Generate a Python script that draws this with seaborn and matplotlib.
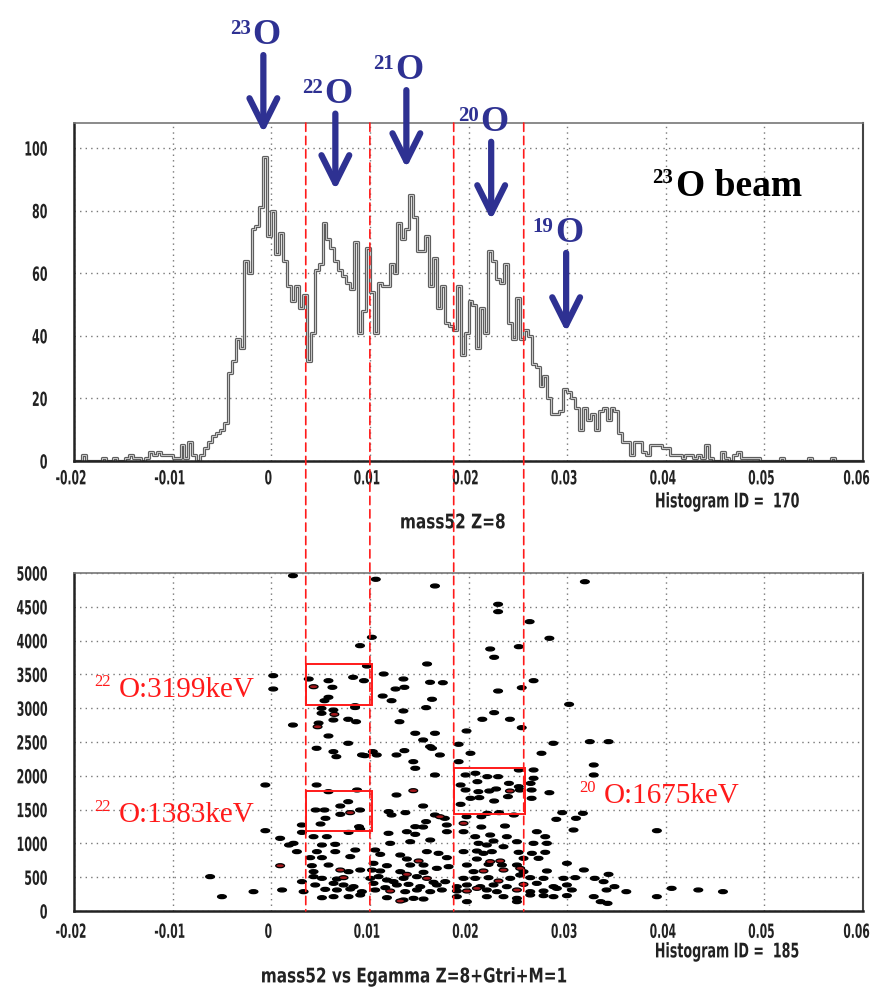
import numpy as np
import pandas as pd
import seaborn as sns
import matplotlib
matplotlib.use("Agg")
import matplotlib.pyplot as plt
from matplotlib.patches import Rectangle, ConnectionPatch
from matplotlib.patheffects import AbstractPathEffect
from matplotlib.path import Path
from matplotlib.markers import MarkerStyle
from matplotlib.transforms import Affine2D
from matplotlib.ticker import MultipleLocator, FuncFormatter

# ---------------- data ----------------
# mass52 histogram (Z=8), 200 bins of 0.0004 from -0.02 to 0.06
bin_lo, bin_hi, bin_w = -0.02, 0.06, 0.0004
mass_counts = [
    0, 0, 2, 0, 0, 0, 0, 1, 0, 0,
    1, 0, 0, 1, 2, 1, 1, 0, 1, 3,
    2, 3, 2, 2, 2, 1, 1, 5, 1, 6,
    2, 0, 2, 4, 6, 8, 9, 10, 12, 28,
    32, 39, 36, 64, 60, 74, 75, 81, 97, 72,
    80, 66, 73, 64, 56, 51, 56, 49, 53, 32,
    41, 61, 63, 76, 71, 68, 64, 61, 59, 57,
    55, 70, 41, 48, 68, 54, 41, 57, 56, 56,
    63, 60, 76, 71, 74, 85, 78, 67, 67, 72,
    56, 65, 49, 56, 44, 43, 42, 56, 34, 41,
    51, 50, 36, 49, 41, 67, 64, 58, 57, 63,
    44, 39, 52, 39, 42, 40, 31, 30, 24, 27,
    20, 15, 15, 16, 23, 22, 20, 17, 10, 17,
    13, 15, 10, 16, 17, 13, 17, 16, 9, 6,
    6, 2, 6, 6, 3, 2, 5, 5, 5, 4,
    4, 2, 2, 2, 1, 2, 2, 1, 2, 1,
    5, 1, 0, 0, 3, 1, 0, 2, 3, 1,
    1, 1, 1, 1, 0, 0, 0, 0, 0, 1,
    0, 0, 0, 0, 0, 0, 1, 0, 0, 0,
    0, 0, 1, 0, 0, 0, 0, 0, 0, 0,
]

# mass52 vs Egamma events (mass52, Egamma keV); single and multiple hits per cell
single_hits = [
    # high-energy part
    (0.0022, 4960), (0.0106, 4907), (0.0166, 4808), (0.0102, 4049), (0.0090, 3925),
    (0.0097, 3624), (0.0158, 3654), (0.0002, 3481), (0.0114, 3506), (0.0038, 3432),
    (0.0058, 3407), (0.0083, 3457), (0.0094, 3407), (0.0134, 3432), (0.0161, 3383),
    (0.0062, 3309), (0.0002, 3284), (0.0126, 3284), (0.0135, 3309), (0.0113, 3180),
    (0.0122, 3111), (0.0058, 3161), (0.0054, 3111), (0.0163, 3132), (0.0085, 3037),
    (0.0085, 3010), (0.0051, 2998), (0.0051, 2925), (0.0063, 2973), (0.0063, 2825),
    (0.0078, 2836), (0.0086, 2800), (0.0157, 3008), (0.0134, 2959), (0.0130, 2800),
    (0.0022, 2751), (0.0048, 2780), (0.0058, 2589), (0.0146, 2629), (0.0166, 2629),
    (0.0078, 2481), (0.0154, 2530), (0.0161, 2431), (0.0046, 2407), (0.0063, 2357),
    (0.0066, 2283), (0.0095, 2298), (0.0103, 2357), (0.0107, 2308), (0.0127, 2308),
    (0.0135, 2372),
    (0.0318, 4871), (0.0230, 4537), (0.0230, 4428), (0.0262, 4280), (0.0282, 4034),
    (0.0222, 3876), (0.0251, 3910), (0.0226, 3753), (0.0174, 3377), (0.0266, 3407),
    (0.0254, 3303), (0.0230, 3254), (0.0302, 3057), (0.0226, 2934), (0.0214, 2836),
    (0.0242, 2836), (0.0254, 2712), (0.0198, 2663), (0.0190, 2466), (0.0286, 2481),
    (0.0323, 2505), (0.0342, 2505), (0.0163, 2407), (0.0171, 2308), (0.0202, 2333),
    (0.0274, 2333),
    # mid-energy part
    (0.0092, 2308), (0.0144, 2209), (0.0146, 2111), (0.0166, 2012), (-0.0006, 1864),
    (0.0046, 1864), (0.0058, 1765), (0.0087, 1790), (0.0127, 1716), (0.0078, 1617),
    (0.0070, 1553), (0.0045, 1494), (0.0054, 1494), (0.0090, 1494), (0.0070, 1430),
    (0.0055, 1371), (0.0119, 1470), (0.0122, 1420), (0.0136, 1455), (0.0154, 1553),
    (0.0166, 1420), (0.0031, 1272), (0.0050, 1287), (0.0089, 1247), (0.0146, 1247),
    (0.0154, 1242), (-0.0006, 1188), (0.0009, 1075), (0.0018, 976), (0.0011, 311),
    (-0.0018, 286), (-0.0062, 508), (-0.0050, 212),
    (0.0190, 2209), (0.0327, 2160), (0.0251, 2086), (0.0266, 2086), (0.0197, 2012),
    (0.0207, 2037), (0.0219, 1987), (0.0230, 1987), (0.0327, 2012), (0.0266, 1963),
    (0.0192, 1864), (0.0209, 1913), (0.0241, 1888), (0.0251, 1839), (0.0263, 1888),
    (0.0197, 1790), (0.0210, 1765), (0.0221, 1775), (0.0228, 1805), (0.0252, 1790),
    (0.0264, 1790), (0.0282, 1750), (0.0202, 1667), (0.0211, 1677), (0.0226, 1627),
    (0.0240, 1692), (0.0192, 1578), (0.0264, 1667), (0.0176, 1371), (0.0198, 1395),
    (0.0219, 1445), (0.0213, 1395), (0.0231, 1455), (0.0246, 1420), (0.0295, 1455),
    (0.0309, 1371), (0.0316, 1445), (0.0289, 1356), (0.0157, 1322), (0.0178, 1272),
    (0.0213, 1242), (0.0237, 1257),
    (0.0391, 1188), (0.0317, 607), (0.0328, 483), (0.0342, 542), (0.0337, 434),
    (0.0348, 360), (0.0327, 212), (0.0340, 311), (0.0360, 286), (0.0391, 212),
    (0.0406, 335), (0.0433, 311), (0.0458, 286), (0.0334, 138), (0.0341, 113),
    # dense low-energy band
    (0.00311, 1163), (0.00429, 1099), (0.00564, 1099), (0.00784, 1163), (0.00902, 1213),
    (0.01189, 1149), (0.01375, 1173), (0.01460, 1134), (0.01612, 1050), (0.01781, 1173),
    (0.01950, 1173), (0.02068, 1099), (0.02220, 1124), (0.02389, 1099), (0.02693, 1173),
    (0.02778, 1099), (0.03065, 1198),
    (0.00226, 1001), (0.00514, 976), (0.00649, 986), (0.01206, 1001), (0.01409, 1025),
    (0.02102, 1001), (0.02186, 976), (0.02254, 1035), (0.02355, 951), (0.02491, 1025),
    (0.02659, 1001), (0.02795, 1001),
    (0.00260, 878), (0.00463, 878), (0.00649, 878), (0.00852, 902), (0.01054, 902),
    (0.01105, 838), (0.01308, 828), (0.01578, 878), (0.01696, 853), (0.01950, 878),
    (0.02085, 887), (0.02152, 853), (0.02237, 878), (0.02508, 868), (0.02643, 853),
    (0.02778, 868),
    (0.00395, 789), (0.00514, 789), (0.00801, 804), (0.01375, 769), (0.01781, 789),
    (0.02085, 769), (0.02558, 779), (0.02710, 779),
    (0.00412, 670), (0.00581, 680), (0.01037, 705), (0.01173, 670), (0.01409, 680),
    (0.01544, 680), (0.01679, 631), (0.01798, 656), (0.01984, 680), (0.02203, 690),
    (0.02339, 680), (0.02491, 680), (0.02998, 705),
    (0.00429, 582), (0.00902, 606), (0.01021, 606), (0.01105, 592), (0.00784, 582),
    (0.01308, 582), (0.01544, 572), (0.02051, 582), (0.02558, 582), (0.02795, 592),
    (0.00311, 434), (0.00429, 508), (0.00514, 483), (0.00666, 473), (0.01004, 483),
    (0.01088, 508), (0.01173, 458), (0.01240, 434), (0.01341, 483), (0.01477, 508),
    (0.01645, 424), (0.01764, 434), (0.01950, 483), (0.02068, 483), (0.02203, 493),
    (0.02423, 483), (0.02524, 532), (0.02626, 493), (0.02761, 483), (0.02964, 483),
    (0.03082, 493),
    (0.00446, 385), (0.00632, 409), (0.00733, 385), (0.00835, 360), (0.01037, 409),
    (0.01156, 345), (0.01274, 385), (0.01392, 394), (0.01511, 360), (0.01679, 385),
    (0.01882, 360), (0.01984, 385), (0.02119, 360), (0.02254, 385), (0.02389, 360),
    (0.02693, 409), (0.02862, 360), (0.02998, 385),
    (0.00328, 286), (0.00547, 320), (0.00666, 311), (0.00801, 325), (0.00919, 286),
    (0.01054, 311), (0.01358, 286), (0.01477, 311), (0.01612, 286), (0.01730, 311),
    (0.01882, 296), (0.02186, 311), (0.02288, 286), (0.02626, 286), (0.02761, 296),
    (0.02896, 335), (0.03048, 311),
    (0.00514, 197), (0.00632, 212), (0.00784, 212), (0.00902, 237), (0.01173, 197),
    (0.01341, 163), (0.01443, 187), (0.01544, 177), (0.01882, 212), (0.02186, 212),
    (0.02355, 212), (0.02491, 187), (0.02626, 237), (0.02761, 227), (0.02862, 212),
    (0.02998, 227), (0.01984, 138), (0.02491, 138),
]
multi_hits = [
    (0.0043, 3318), (0.0064, 2909), (0.0047, 2726), (0.0144, 1780), (0.0080, 1455),
    (0.0242, 1775), (0.0171, 1395), (0.0195, 1297), (0.0009, 670),
    (0.00733, 493), (0.01494, 740), (0.02220, 730), (0.02322, 740), (0.02524, 631),
    (0.02558, 394), (0.01984, 296), (0.02085, 335), (0.02152, 592), (0.02304, 444),
    (0.02491, 311), (0.01375, 542), (0.01206, 296), (0.00700, 606), (0.01578, 483),
    (0.02355, 606), (0.01308, 148),
]

# mass gates drawn across both panels
gate_x = [0.0035, 0.0100, 0.0185, 0.0256]

# gamma-ray gates
box_mass_lo = [0.0035, 0.0035, 0.0185]
box_mass_hi = [0.0102, 0.0102, 0.0257]
box_e_lo = [3050, 1183, 1435]
box_e_hi = [3654, 1775, 2115]
box_iso = ["22", "22", "20"]
box_text = ["O:3199keV", "O:1383keV", "O:1675keV"]
box_label_x = [-0.0155, -0.0155, 0.0337]
box_label_e = [3166, 1317, 1598]

# isotope positions marked in the mass spectrum
iso_mass = ["23", "22", "21", "20", "19"]
iso_x = [-0.0008, 0.0065, 0.0137, 0.0223, 0.0299]
iso_tip = [104.8, 86.6, 93.6, 77.0, 41.2]
iso_tail = [129.7, 111.0, 118.5, 102.0, 66.5]


# ---------------- style ----------------
class Condensed(AbstractPathEffect):
    """Rescale text glyphs about an anchor point of their ink box (narrow lettering)."""

    def __init__(self, sx, sy=1.0, ax_frac=0.5, ay_frac=0.5, dx=0.0):
        super().__init__()
        self._sx, self._sy = sx, sy
        self._ax, self._ay, self._dx = ax_frac, ay_frac, dx

    def draw_path(self, renderer, gc, tpath, affine, rgbFace=None):
        ext = tpath.get_extents()
        x0 = ext.x0 + self._ax * ext.width
        y0 = ext.y0 + self._ay * ext.height
        t = (Affine2D().translate(-x0, -y0).scale(self._sx, self._sy).translate(x0, y0)
             + affine + Affine2D().translate(self._dx, 0))
        renderer.draw_path(gc, tpath, t, rgbFace)


sns.set_style("white")
plt.rcParams["font.family"] = ["DejaVu Sans"]
plt.rcParams["axes.unicode_minus"] = False
SERIF = ["Liberation Serif", "DejaVu Serif"]
BLUE = "#2e3192"
RED = "#ff1a1a"
INK = "#222222"

fig = plt.figure(figsize=(8.74, 9.96), dpi=100)
ax1 = fig.add_axes([74 / 874, 1 - 461 / 996, 789 / 874, 338 / 996])
ax2 = fig.add_axes([74 / 874, 1 - 911 / 996, 789 / 874, 338 / 996])

fmt = FuncFormatter(lambda v, p: "0" if abs(v) < 1e-9 else f"{v:.2f}")


def style_axes(ax):
    ax.set_xlim(bin_lo, bin_hi)
    ax.xaxis.set_major_locator(MultipleLocator(0.01))
    ax.xaxis.set_minor_locator(MultipleLocator(0.002))
    ax.xaxis.set_major_formatter(fmt)
    ax.grid(True, which="major", color="#777777", linestyle=(0, (1, 3)), linewidth=1.0)
    ax.tick_params(which="both", direction="in", top=False, right=False,
                   colors=INK, width=1.2)
    ax.tick_params(axis="x", labelsize=14)
    ax.tick_params(axis="y", labelsize=10, pad=19)
    ax.tick_params(which="major", length=10)
    ax.tick_params(which="minor", length=5.5)
    for s in ("left", "bottom"):
        ax.spines[s].set_color(INK)
        ax.spines[s].set_linewidth(1.8)
    ax.spines["top"].set_color("#777777")
    ax.spines["top"].set_linewidth(1.2)
    ax.spines["right"].set_color("#444444")
    ax.spines["right"].set_linewidth(1.5)
    ax.set_xlabel("")
    ax.set_ylabel("")
    ax.set_axisbelow(True)


# ---------------- upper panel: mass spectrum ----------------
edges = np.linspace(bin_lo, bin_hi, len(mass_counts) + 1)
centers = 0.5 * (edges[:-1] + edges[1:])
hist_df = pd.DataFrame({"mass52": centers, "counts": np.asarray(mass_counts, float)})
sns.histplot(data=hist_df, x="mass52", weights="counts", binwidth=bin_w,
             binrange=(bin_lo, bin_hi), element="step", fill=False,
             color="#5e5e5e", linewidth=2.3, ax=ax1)
sns.histplot(data=hist_df, x="mass52", weights="counts", binwidth=bin_w,
             binrange=(bin_lo, bin_hi), element="step", fill=False,
             color="#d8d8d8", linewidth=0.6, ax=ax1)
style_axes(ax1)
ax1.set_ylim(0, 108)
ax1.yaxis.set_major_locator(MultipleLocator(20))
ax1.yaxis.set_minor_locator(MultipleLocator(5))
ax1.tick_params(axis="x", pad=6)

for m, x, tip, tail in zip(iso_mass, iso_x, iso_tip, iso_tail):
    ann = ax1.annotate("", xy=(x, tip), xytext=(x, tail), annotation_clip=False,
                       arrowprops=dict(arrowstyle="->,head_length=1.0,head_width=0.5",
                                       lw=4.5, color=BLUE, mutation_scale=20,
                                       shrinkA=0, shrinkB=0))
    ann.arrow_patch.set_clip_on(False)
    ax1.annotate("O", xy=(x, tail), xytext=(-8, 8), textcoords="offset points",
                 ha="left", va="baseline", fontsize=26, fontweight="bold",
                 family=SERIF, color=BLUE, annotation_clip=False)
    ax1.annotate(m, xy=(x, tail), xytext=(-9, 15), textcoords="offset points",
                 ha="right", va="baseline", fontsize=15, fontweight="bold",
                 family=SERIF, color=BLUE, annotation_clip=False)

ax1.annotate("O beam", xy=(0.041, 84.7), ha="left", va="baseline", fontsize=27,
             fontweight="bold", family=SERIF, color="black")
ax1.annotate("23", xy=(0.041, 84.7), xytext=(-2, 9), textcoords="offset points",
             ha="right", va="baseline", fontsize=15, fontweight="bold",
             family=SERIF, color="black")

ax1.text(0.920, -0.121, "Histogram ID =  170", transform=ax1.transAxes,
         ha="right", va="center", fontsize=14.5, fontweight="bold", color=INK,
         path_effects=[Condensed(0.63, 1.0, 1.0, 0.5)])
ax1.text(0.480, -0.183, "mass52 Z=8", transform=ax1.transAxes,
         ha="center", va="center", fontsize=14.5, fontweight="bold", color=INK,
         path_effects=[Condensed(0.76, 1.0, 0.5, 0.5)])

# ---------------- lower panel: mass52 vs Egamma ----------------
ev = pd.DataFrame(single_hits + multi_hits, columns=["mass52", "Egamma"])
ev["hits"] = [1] * len(single_hits) + [2] * len(multi_hits)
ell = Path.unit_circle().transformed(Affine2D().scale(1.0, 0.45))
sns.scatterplot(data=ev, x="mass52", y="Egamma", hue="hits",
                palette={1: "black", 2: "#a3171b"}, marker=MarkerStyle(ell),
                s=40, edgecolor="black", linewidth=0.9, legend=False, ax=ax2,
                zorder=3)
style_axes(ax2)
ax2.set_ylim(0, 5000)
ax2.yaxis.set_major_locator(MultipleLocator(500))
ax2.yaxis.set_minor_locator(MultipleLocator(250))
ax2.tick_params(axis="x", pad=8.5)

for x0, x1, e0, e1 in zip(box_mass_lo, box_mass_hi, box_e_lo, box_e_hi):
    ax2.add_patch(Rectangle((x0, e0), x1 - x0, e1 - e0, fill=False,
                            edgecolor=RED, linewidth=1.4, zorder=4))

for iso, txt, x, e in zip(box_iso, box_text, box_label_x, box_label_e):
    ax2.annotate(txt, xy=(x, e), ha="left", va="baseline", fontsize=21,
                 family=SERIF, color=RED, annotation_clip=False)
    ax2.annotate(iso, xy=(x, e), xytext=(-5.5, 8), textcoords="offset points",
                 ha="right", va="baseline", fontsize=12, family=SERIF,
                 color=RED, annotation_clip=False)

ax2.text(0.920, -0.121, "Histogram ID =  185", transform=ax2.transAxes,
         ha="right", va="center", fontsize=14.5, fontweight="bold", color=INK,
         path_effects=[Condensed(0.63, 1.0, 1.0, 0.5)])
ax2.text(0.431, -0.195, "mass52 vs Egamma Z=8+Gtri+M=1", transform=ax2.transAxes,
         ha="center", va="center", fontsize=14.5, fontweight="bold", color=INK,
         path_effects=[Condensed(0.76, 1.0, 0.5, 0.5)])

# mass gates spanning both panels
for gx in gate_x:
    con = ConnectionPatch(xyA=(gx, ax1.get_ylim()[1]), coordsA=ax1.transData,
                          xyB=(gx, 0), coordsB=ax2.transData,
                          color=RED, linestyle=(0, (5, 3)), linewidth=1.2, zorder=5)
    fig.add_artist(con)

# narrow tick-label lettering
fig.canvas.draw()
for ax in (ax1, ax2):
    for t in ax.xaxis.get_major_ticks():
        t.label1.set_fontweight("bold")
        if abs(t.get_loc() - bin_hi) < 1e-9:
            # right-most label anchored at its right end so it stays on the canvas
            t.label1.set_horizontalalignment("right")
            t.label1.set_path_effects([Condensed(0.55, 1.0, 1.0, 1.0, dx=7)])
        else:
            t.label1.set_path_effects([Condensed(0.55, 1.0, 0.5, 1.0, dx=-3)])
    for t in ax.yaxis.get_major_ticks():
        t.label1.set_fontweight("bold")
        t.label1.set_path_effects([Condensed(0.8, 1.4, 1.0, 0.5)])

fig.savefig("out.png", dpi=100)
